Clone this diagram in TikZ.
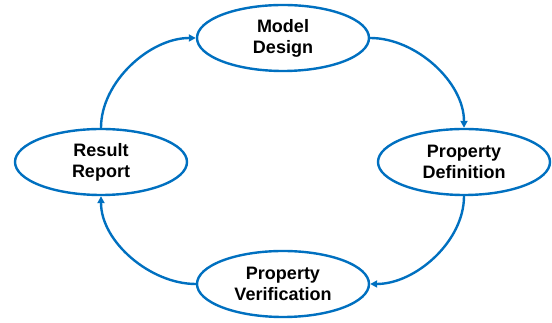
\documentclass[tikz,border=0pt]{standalone}
\usepackage{fontspec}
\setmainfont{Liberation Sans}
\usetikzlibrary{shapes.geometric,arrows.meta}
\definecolor{cblue}{HTML}{0070C0}
\begin{document}
\begin{tikzpicture}[x=1pt,y=1pt,
  stage/.style={ellipse,draw=cblue,line width=2.4pt,fill=white,minimum width=172pt,minimum height=66pt,inner sep=0pt,align=center,font=\fontsize{18}{21}\selectfont\bfseries},
  flow/.style={draw=cblue,line width=2.4pt,-{Triangle[length=7pt,width=7pt]}}]
\useasboundingbox (0,0) rectangle (552,323);
\node[stage] (md) at (283,285) {Model\\Design};
\node[stage] (pd) at (464,161) {Property\\Definition};
\node[stage] (pv) at (283,39) {Property\\Verification};
\node[stage] (rr) at (101,161) {Result\\Report};
\draw[flow] (rr.north) to[out=90,in=180,looseness=0.9] (md.west);
\draw[flow] (md.east) to[out=0,in=90,looseness=0.9] (pd.north);
\draw[flow] (pd.south) to[out=-90,in=0,looseness=0.9] (pv.east);
\draw[flow] (pv.west) to[out=180,in=-90,looseness=0.9] (rr.south);
\end{tikzpicture}
\end{document}
